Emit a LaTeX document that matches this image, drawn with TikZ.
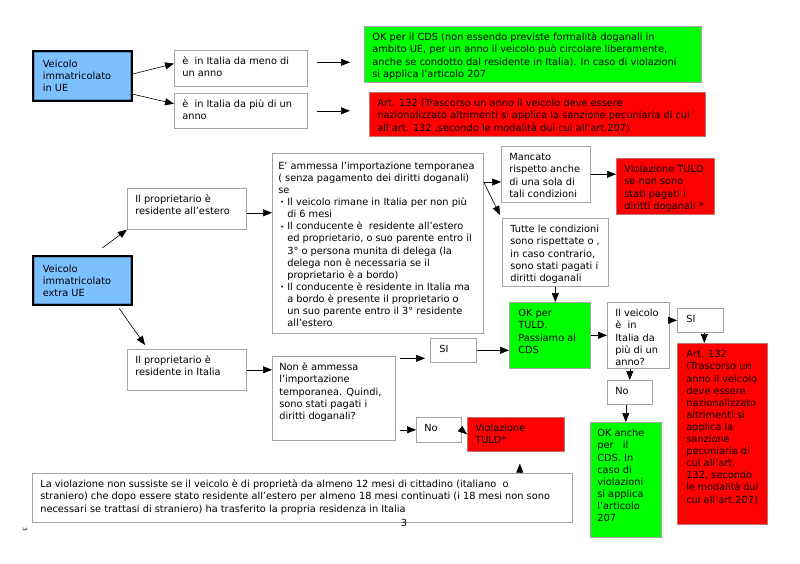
\documentclass[tikz,border=0pt]{standalone}
\usepackage{fontspec}
\setmainfont{DejaVu Sans}
\usetikzlibrary{arrows.meta,calc}

\definecolor{celeste}{RGB}{125,192,255}
\definecolor{celestescuro}{RGB}{90,140,200}
\definecolor{verde}{RGB}{0,255,0}
\definecolor{rosso}{RGB}{255,0,0}
\definecolor{bordo}{RGB}{165,165,165}

% testo in una cella: larghezza e altezza interne
\newcommand{\cella}[3]{\parbox[c][#2pt][t]{#1pt}{\rule{0pt}{9.5pt}#3}}
\newcommand{\pto}{\hspace*{2pt}\makebox[7pt][l]{\raisebox{0.8pt}{\fontsize{6.5}{7}\selectfont\textbullet}}}
\newcommand{\rientro}{\hspace*{9pt}}

\tikzset{every picture/.style={line width=0.6pt},
  scatola/.style={draw=bordo, fill=white, anchor=north west, inner xsep=8pt, inner ysep=5pt, font=\fontsize{9.8}{12.1}\selectfont},
  scatolablu/.style={scatola, draw=black, line width=1.6pt, fill=celeste, inner xsep=10pt, inner ysep=7pt},
  scatolaverde/.style={scatola, fill=verde},
  scatolarossa/.style={scatola, fill=rosso, draw=bordo!70!rosso},
  freccia/.style={-{Triangle[length=9pt,width=7pt]}, line width=0.6pt},
}

\begin{document}
\begin{tikzpicture}[x=1pt,y=1pt,yscale=-1,xscale=1]
        \fill[white] (0,0) rectangle (800,563);
        \useasboundingbox (0,0) rectangle (800,563);

        %Shape: Rectangle [veicolo UE]
        \node [scatolablu] (ue) at (32,50) {\cella{79}{36}{Veicolo\\ immatricolato\\ in UE}};
        \draw [celestescuro, line width=0.5pt] ($(ue.north west)+(2.5,2.5)$) rectangle ($(ue.south east)+(-2.5,-2.5)$);
        % Text Node
        \node [scatola] (meno) at (174,50) {\cella{117}{26}{è~ in Italia da meno di\\ un anno}};
        % Text Node
        \node [scatola] (piu) at (174,93) {\cella{117}{25}{è~ in Italia da più di un\\ anno}};
        % Text Node
        \node [scatolaverde] (okcds) at (364,26) {\cella{321}{46}{OK per il CDS (non essendo previste formalità doganali in\\ ambito UE, per un anno il veicolo può circolare liberamente,\\ anche se condotto dal residente in Italia). In caso di violazioni\\ si applica l’articolo 207}};
        % Text Node
        \node [scatolarossa] (art1) at (369,92) {\cella{320}{34}{Art. 132 (Trascorso un anno il veicolo deve essere\\ nazionalizzato altrimenti si applica la sanzione pecuniaria di cui\\ all’art. 132 ,secondo le modalità dui cui all’art.207)}};

        %Straight Lines
        \draw [freccia] (ue.2) -- (meno.176);
        \draw [freccia] (ue.-20) -- (piu.174);
        \draw [freccia] ($(meno.east)+(9,-6)$) -- ($(meno.east -| okcds.west)+(-14,-6)$);
        \draw [freccia] ($(piu.east)+(9,0)$) -- ($(piu.east -| art1.west)+(-19,0)$);

        %Shape: Rectangle [veicolo extra UE]
        \node [scatolablu] (xue) at (32,255) {\cella{79}{35}{Veicolo\\ immatricolato\\ extra UE}};
        \draw [celestescuro, line width=0.5pt] ($(xue.north west)+(2.5,2.5)$) rectangle ($(xue.south east)+(-2.5,-2.5)$);
        % Text Node
        \node [scatola] (estero) at (127,188) {\cella{103}{31}{Il proprietario è\\ residente all’estero}};
        % Text Node
        \node [scatola] (italia) at (127,349) {\cella{103}{31}{Il proprietario è\\ residente in Italia}};
        % Text Node
        \node [scatola, inner xsep=6pt, inner ysep=6.5pt] (amm) at (272,153) {\cella{199}{167}{E’ ammessa l’importazione temporanea\\ ( senza pagamento dei diritti doganali)\\ se\\
          \pto Il veicolo rimane in Italia per non più\\ \rientro di 6 mesi\\
          \pto Il conducente è~ residente all’estero\\ \rientro ed proprietario, o suo parente entro il\\ \rientro 3° o persona munita di delega (la\\ \rientro delega non è necessaria se il\\ \rientro proprietario è a bordo)\\
          \pto Il conducente è residente in Italia ma\\ \rientro a bordo è presente il proprietario o\\ \rientro un suo parente entro il 3° residente\\ \rientro all’estero}};
        % Text Node
        \node [scatola] (mancato) at (501,146) {\cella{73}{46}{Mancato\\ rispetto anche\\ di una sola di\\ tali condizioni}};
        % Text Node
        \node [scatola] (tutte) at (502,218) {\cella{90}{58}{Tutte le condizioni\\ sono rispettate o ,\\ in caso contrario,\\ sono stati pagati i\\ diritti doganali}};
        % Text Node
        \node [scatolarossa] (violtuld) at (616,158) {\cella{82}{46}{Violazione TULD\\ se non sono\\ stati pagati i\\ diritti doganali *}};
        % Text Node
        \node [scatolaverde, inner xsep=9pt] (oktuld) at (509,302) {\cella{63}{56}{OK per\\ TULD.\\ Passiamo al\\ CDS}};
        % Text Node
        \node [scatola] (veicolo) at (607,302) {\cella{46}{56}{Il veicolo\\ è~ in\\ Italia da\\ più di un\\ anno?}};
        % Text Node
        \node [scatola, inner xsep=9pt] (sidue) at (677,308) {\cella{28}{14}{SI}};
        % Text Node
        \node [scatolarossa, inner xsep=9pt] (art2) at (677,343) {\cella{72}{171}{Art. 132\\ (Trascorso un\\ anno il veicolo\\ deve essere\\ nazionalizzato\\ altrimenti si\\ applica la\\ sanzione\\ pecuniaria di\\ cui all’art.\\ 132, secondo\\ le modalità dui\\ cui all’art.207)}};
        % Text Node
        \node [scatola] (nodue) at (607,380) {\cella{29}{14}{No}};
        % Text Node
        \node [scatolaverde, inner xsep=7pt] (okanche) at (590,422) {\cella{57}{105}{OK anche\\ per~~~il\\ CDS. In\\ caso di\\ violazioni\\ si applica\\ l’articolo\\ 207}};
        % Text Node
        \node [scatola, inner xsep=7pt] (nonamm) at (272,356) {\cella{109}{74}{Non è ammessa\\ l’importazione\\ temporanea. Quindi,\\ sono stati pagati i\\ diritti doganali?}};
        % Text Node
        \node [scatola, inner xsep=9pt] (siuno) at (430,338) {\cella{28}{14}{SI}};
        % Text Node
        \node [scatola] (nouno) at (416,417) {\cella{29}{15}{No}};
        % Text Node
        \node [scatolarossa] (viol) at (467,417) {\cella{81}{24}{Violazione\\ TULD*}};
        % Text Node
        \node [scatola] (nota) at (32,473) {\cella{524}{39}{La violazione non sussiste se il veicolo è di proprietà da almeno 12 mesi di cittadino (italiano~ o\\ straniero) che dopo essere stato residente all’estero per almeno 18 mesi continuati (i 18 mesi non sono\\ necessari se trattasi di straniero) ha trasferito la propria residenza in Italia}};
        % Text Node
        \node [font=\fontsize{9.8}{10}\selectfont, inner sep=0.75pt] (pagina) at (404,523) {3};
        % Text Node
        \node [font=\fontsize{6}{7}\selectfont, inner sep=0.75pt, rotate=-90] (paginabis) at (25,529) {3};

        %Straight Lines
        \coordinate (bivio) at ($(amm.north east)+(0,29)$);
        \draw [freccia] ($(xue.north)+(20,-7)$) -- (estero.south west);
        \draw [freccia] ($(xue.south)+(37,3)$) -- ($(italia.north west)+(18,-4)$);
        \draw [freccia] ($(estero.east)+(0,4)$) -- ($(estero.east -| amm.west)+(0,4)$);
        \draw [freccia] (bivio) -- (bivio -| mancato.west);
        \draw [freccia] (bivio) -- ($(tutte.north west)+(-2,-3)$);
        \draw [freccia] (mancato.east) -- (mancato.east -| violtuld.west);
        \draw [freccia] (tutte.south) -- (tutte.south |- oktuld.north);
        \draw [freccia] (oktuld.east) -- (oktuld.east -| veicolo.west);
        \draw [freccia] (sidue.west -| veicolo.east) -- (sidue.west);
        \draw [freccia] ($(sidue.south)+(4,0)$) -- ($(sidue.south |- art2.north)+(4,0)$);
        \draw [freccia] (nodue.north |- veicolo.south) -- (nodue.north);
        \draw [freccia] (okanche.north |- nodue.south) -- (okanche.north);
        \draw [freccia] (italia.east) -- (italia.east -| nonamm.west);
        \draw [freccia] ($(nonamm.east |- siuno.west)+(4,8)$) -- ($(siuno.west)+(-5,8)$);
        \draw [freccia] (siuno.east) -- (siuno.east -| oktuld.west);
        \draw [freccia] ($(nonamm.east |- nouno.west)+(4,0)$) -- (nouno.west);
        \draw [freccia] (nouno.east) -- (viol.west);
        \draw [freccia] ($(nota.north -| viol.south)+(4,0)$) -- ($(viol.south)+(4,12)$);

\end{tikzpicture}
\end{document}
